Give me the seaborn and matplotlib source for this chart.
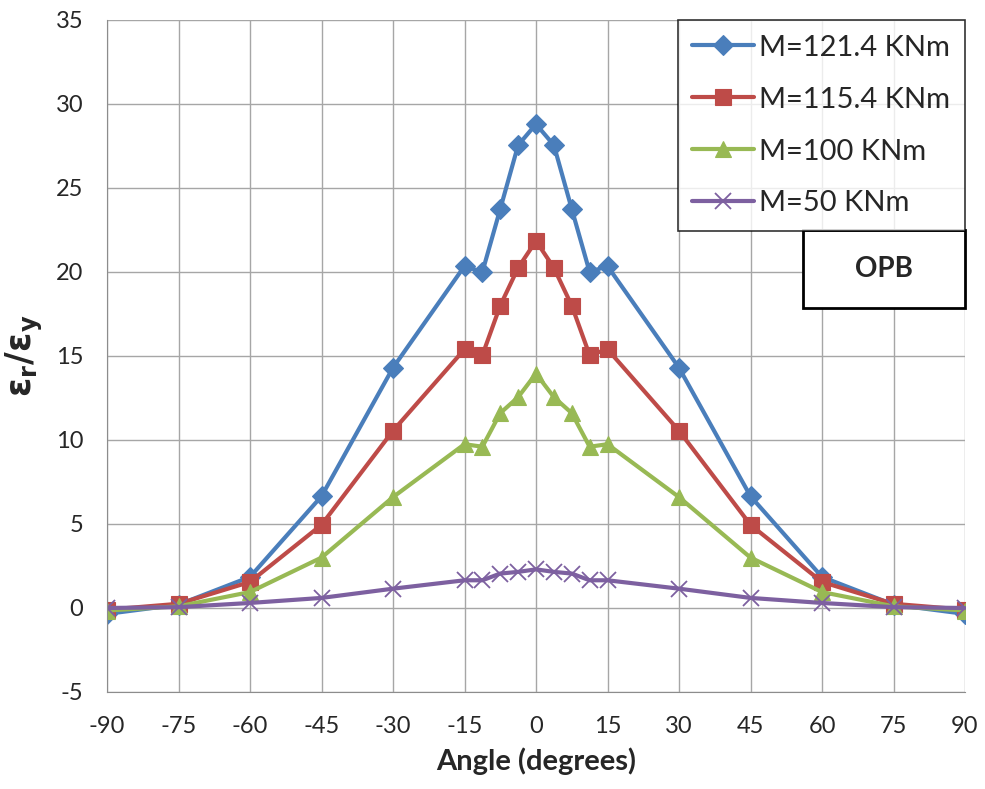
import pandas as pd
import matplotlib.pyplot as plt
from matplotlib.patches import Rectangle
import seaborn as sns

# angles (degrees)
angles = [-90, -75, -60, -45, -30, -15, -11.25, -7.5, -3.75, 0,
          3.75, 7.5, 11.25, 15, 30, 45, 60, 75, 90]

# strain ratio er/ey (left half, mirrored)
half_121 = [-0.35, 0.2, 1.85, 6.65, 14.3, 20.35, 20.0, 23.75, 27.55]
peak_121 = 28.8
half_115 = [-0.1, 0.25, 1.55, 4.95, 10.55, 15.4, 15.05, 18.0, 20.25]
peak_115 = 21.85
half_100 = [-0.15, 0.1, 0.95, 3.0, 6.6, 9.75, 9.6, 11.6, 12.55]
peak_100 = 13.95
half_50 = [0.0, 0.05, 0.3, 0.6, 1.15, 1.65, 1.65, 2.05, 2.15]
peak_50 = 2.3

labels = ["M=121.4 KNm", "M=115.4 KNm", "M=100 KNm", "M=50 KNm"]
colors = ["#4a7ebb", "#be4b48", "#98b954", "#7d60a0"]
markers = ["D", "s", "^", "x"]
marker_sizes = [10, 12, 12, 12]

series = {
    labels[0]: half_121 + [peak_121] + half_121[::-1],
    labels[1]: half_115 + [peak_115] + half_115[::-1],
    labels[2]: half_100 + [peak_100] + half_100[::-1],
    labels[3]: half_50 + [peak_50] + half_50[::-1],
}

rows = []
for lab, vals in series.items():
    for a, v in zip(angles, vals):
        rows.append({"Angle": a, "Ratio": v, "Load": lab})
df = pd.DataFrame(rows)

sns.set_style("white")
plt.rcParams['font.family'] = ['Lato', 'DejaVu Sans']
plt.rcParams['axes.unicode_minus'] = False

fig = plt.figure(figsize=(9.85, 7.89), dpi=100)
ax = fig.add_axes([107 / 985, 97 / 789, 858 / 985, 672 / 789])

for lab, col, mk, ms in zip(labels, colors, markers, marker_sizes):
    sub = df[df["Load"] == lab]
    sns.lineplot(data=sub, x="Angle", y="Ratio", ax=ax, color=col, lw=3,
                 marker=mk, markersize=ms, markeredgecolor=col,
                 markeredgewidth=1.3 if mk == "x" else 0.8, label=lab,
                 sort=False)

ax.set_xlim(-90, 90)
ax.set_ylim(-5, 35)
ax.set_xticks(range(-90, 91, 15))
ax.set_yticks(range(-5, 36, 5))
ax.grid(True, color="#a6a6a6", lw=1)
ax.tick_params(axis="both", labelsize=17, length=0, pad=17)
for s in ["top", "right"]:
    ax.spines[s].set_visible(False)
for s in ["left", "bottom"]:
    ax.spines[s].set_color("#8c8c8c")

ax.set_xlabel("Angle (degrees)", fontsize=21, fontweight="bold", labelpad=8)
ax.set_ylabel(r"$\mathbf{\varepsilon_r/\varepsilon_y}$", fontsize=25, labelpad=8)

leg = ax.legend(loc="upper right", bbox_to_anchor=(1.0, 1.0), fontsize=21,
                frameon=True, fancybox=False, edgecolor="black",
                handlelength=2.1, labelspacing=0.89, borderpad=0.5,
                handletextpad=0.2, borderaxespad=0)
leg.get_frame().set_linewidth(1.2)

# OPB box
ax.add_patch(Rectangle((696 / 858, 384 / 672), 162 / 858, 78 / 672,
                       transform=ax.transAxes, fc="white", ec="black",
                       lw=2, zorder=5, clip_on=False))
ax.text(777 / 858, 423 / 672, "OPB", transform=ax.transAxes, fontsize=20,
        fontweight="bold", ha="center", va="center", zorder=6)

plt.savefig("out.png", dpi=100)
